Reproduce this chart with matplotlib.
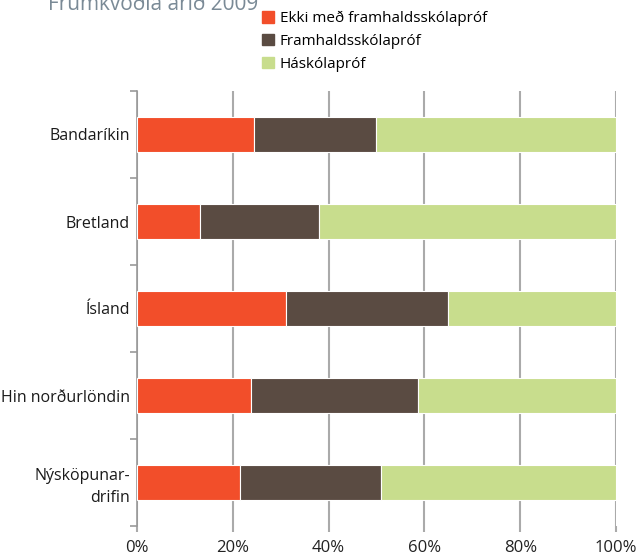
import matplotlib.pyplot as plt
import matplotlib.patches as mpatches
import numpy as np

# gögn
categories = ["Bandaríkin", "Bretland", "Ísland", "Hin norðurlöndin", "Nýsköpunar-\ndrifin"]
ekki = [24.4, 13.2, 31.1, 23.8, 21.5]
framhalds = [25.5, 24.8, 33.8, 34.8, 29.5]
haskoli = [50.1, 62.0, 35.1, 41.4, 49.0]
series_labels = ["Ekki með framhaldsskólapróf", "Framhaldsskólapróf", "Háskólapróf"]
colors = ["#F24E2A", "#5A4B42", "#C8DD8D"]
xticks = [0, 20, 40, 60, 80, 100]

plt.rcParams['font.family'] = ['Open Sans', 'DejaVu Sans']

fig = plt.figure(figsize=(6.38, 5.58), dpi=100)
ax = fig.add_axes([137/638, 1-526/558, 479/638, 435/558])

y = np.arange(len(categories))
left = np.zeros(len(categories))
for vals, c in zip([ekki, framhalds, haskoli], colors):
    ax.barh(y, vals, left=left, height=0.4, color=c, edgecolor='white', linewidth=0.8, zorder=3)
    left += np.array(vals)

ax.set_xlim(0, 100)
ax.set_ylim(len(categories) - 0.5, -0.5)
ax.set_xticks(xticks)
ax.set_xticklabels([f"{v}%" for v in xticks], fontsize=12, color='#222222')
ax.set_yticks(y)
ax.set_yticklabels(categories, fontsize=11.5, color='#1a1a1a', linespacing=1.5)
ax.set_yticks(np.arange(-0.5, len(categories)), minor=True)
ax.tick_params(axis='y', which='major', length=0, pad=5)
ax.tick_params(axis='y', which='minor', length=5, color='#999999', width=1.2)
ax.tick_params(axis='x', length=4, color='#aaaaaa', width=1.5, pad=6)
ax.grid(axis='x', color='#aaaaaa', linewidth=1.5, zorder=0)
for s in ['top', 'right', 'bottom']:
    ax.spines[s].set_visible(False)
ax.spines['left'].set_color('#999999')
ax.spines['left'].set_linewidth(1.2)

# fyrirsögn, skorin að ofan
fig.text(48/638, 1-10/558, "Frumkvöðla árið 2009", fontsize=15, color='#7a8a96',
         va='baseline', ha='left')

handles = [mpatches.Patch(color=c) for c in colors]
fig.legend(handles, series_labels, loc='upper left', bbox_to_anchor=(256/638, 1-5/558),
           frameon=False, fontsize=11, handlelength=0.75, handleheight=0.75,
           handletextpad=0.4, labelspacing=0.5, borderaxespad=0)

fig.savefig("out.png", dpi=100)
